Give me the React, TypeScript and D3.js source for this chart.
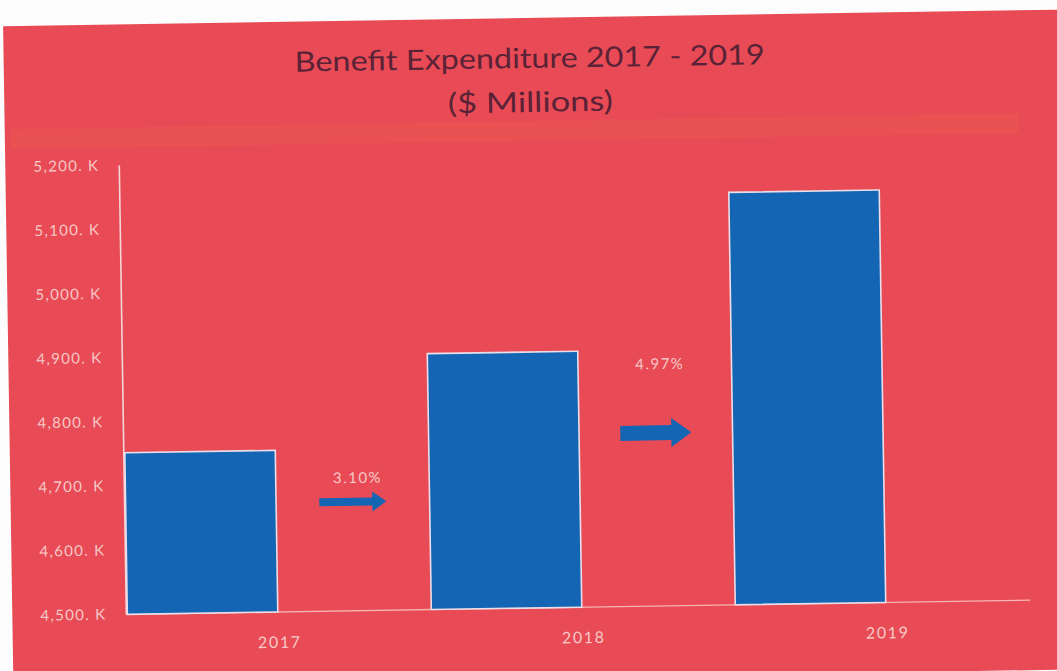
import React from "react";
import * as d3 from "d3";

const categories = ["2017", "2018", "2019"];
const values = [4752, 4899, 5143];
const yTickValues = [4500, 4600, 4700, 4800, 4900, 5000, 5100, 5200];
const yTickLabels = ["4,500. K", "4,600. K", "4,700. K", "4,800. K", "4,900. K", "5,000. K", "5,100. K", "5,200. K"];
const changeLabels = ["3.10%", "4.97%"];
const arrowLevels = [4670, 4770];
const changeLabelLevels = [4707, 4877];
const titleLines = ["Benefit Expenditure 2017 - 2019", "($ Millions)"];

const W = 1057;
const H = 671;
const BG = "#e84b55";
const BAR = "#1565b5";
const TXT = "#f7c9c8";
const FONT = "Lato, 'Open Sans', sans-serif";

const arrowStyles = [
  { len: 67, shaft: 8, head: 20, headLen: 14 },
  { len: 71, shaft: 15, head: 29, headLen: 20 },
];

function arrowPath(cx: number, cy: number, s: { len: number; shaft: number; head: number; headLen: number }) {
  const x0 = cx - s.len / 2;
  const x1 = cx + s.len / 2;
  const p = d3.path();
  p.moveTo(x0, cy - s.shaft / 2);
  p.lineTo(x1 - s.headLen, cy - s.shaft / 2);
  p.lineTo(x1 - s.headLen, cy - s.head / 2);
  p.lineTo(x1, cy);
  p.lineTo(x1 - s.headLen, cy + s.head / 2);
  p.lineTo(x1 - s.headLen, cy + s.shaft / 2);
  p.lineTo(x0, cy + s.shaft / 2);
  p.closePath();
  return p.toString();
}

export default function App() {
  const x = d3.scaleBand<string>().domain(categories).range([123, 1035]).paddingInner(0).paddingOuter(0);
  const barW = x.bandwidth() * 0.495;
  const y = d3.scaleLinear().domain([4500, 5200]).range([608, 159]);
  const axisX = 122;
  const plotRight = 1026;

  return (
    <div style={{ position: "fixed", left: 0, top: 0, width: W, height: H, background: "#fff" }}>
      <svg width={W} height={H} style={{ display: "block" }}>
        <rect x={0} y={0} width={W} height={H} fill="#fdfdfd" />
        <g transform={`rotate(-0.9, 528, 335)`}>
          <rect x={8} y={18} width={1062} height={660} fill={BG} />
          <rect x={14} y={121} width={1008} height={20} fill="#f0624f" opacity={0.28} />
          {titleLines.map((t, i) => (
            <text
              key={t}
              x={534}
              y={i === 0 ? 68 : 112}
              textAnchor="middle"
              fontFamily={FONT}
              fontSize={28}
              fill="#5a2236"
              textLength={i === 0 ? 470 : 165}
              lengthAdjust="spacingAndGlyphs"
            >
              {t}
            </text>
          ))}
          {/* y axis labels */}
          {yTickValues.map((v, i) => (
            <text
              key={v}
              x={102}
              y={y(v) + 5}
              textAnchor="end"
              fontFamily={FONT}
              fontSize={15}
              letterSpacing={1.3}
              fill={TXT}
            >
              {yTickLabels[i]}
            </text>
          ))}
          {/* axis lines */}
          <line x1={axisX} x2={axisX} y1={y(5200)} y2={y(4500)} stroke="#f4d6d8" strokeWidth={1.6} />
          <line x1={axisX} x2={plotRight} y1={y(4500)} y2={y(4500)} stroke="#f6b7b3" strokeWidth={1.4} />
          {/* bars */}
          {categories.map((c, i) => (
            <rect
              key={c}
              x={x(c)!}
              y={y(values[i])}
              width={barW}
              height={y(4500) - y(values[i])}
              fill={BAR}
              stroke="#eadfe8"
              strokeWidth={1.6}
            />
          ))}
          {/* x labels */}
          {categories.map((c) => (
            <text
              key={c}
              x={x(c)! + x.bandwidth() / 2}
              y={644}
              textAnchor="middle"
              fontFamily={FONT}
              fontSize={16}
              letterSpacing={1.6}
              fill={TXT}
            >
              {c}
            </text>
          ))}
          {/* change arrows */}
          {changeLabels.map((lbl, i) => {
            const left = x(categories[i])! + barW;
            const right = x(categories[i + 1])!;
            const cx = (left + right) / 2;
            return (
              <g key={lbl}>
                <path d={arrowPath(cx, y(arrowLevels[i]), arrowStyles[i])} fill={BAR} />
                <text
                  x={cx + 5}
                  y={y(changeLabelLevels[i]) + 5}
                  textAnchor="middle"
                  fontFamily={FONT}
                  fontSize={15}
                  letterSpacing={1.5}
                  fill={TXT}
                >
                  {lbl}
                </text>
              </g>
            );
          })}
        </g>
      </svg>
    </div>
  );
}
